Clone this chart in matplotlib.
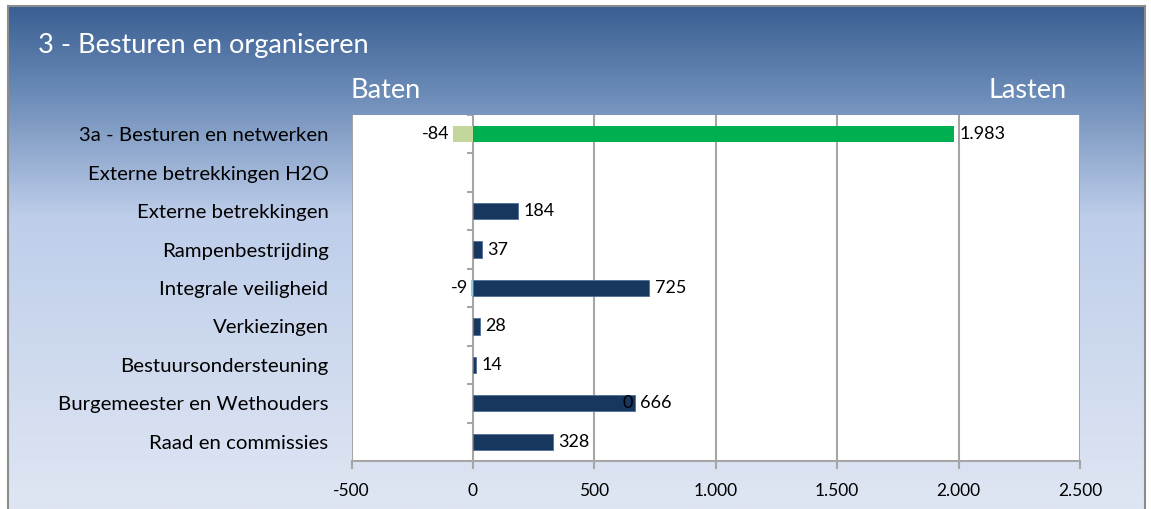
import matplotlib
matplotlib.use("Agg")
import matplotlib.pyplot as plt
import numpy as np
from matplotlib.colors import LinearSegmentedColormap
from matplotlib.lines import Line2D

categories = ["3a - Besturen en netwerken", "Externe betrekkingen H2O", "Externe betrekkingen",
              "Rampenbestrijding", "Integrale veiligheid", "Verkiezingen",
              "Bestuursondersteuning", "Burgemeester en Wethouders", "Raad en commissies"]
lasten = [1983, None, 184, 37, 725, 28, 14, 666, 328]
baten = [-84, None, None, None, -9, None, None, 0, None]
xticks = [-500, 0, 500, 1000, 1500, 2000, 2500]
title = "3 - Besturen en organiseren"

W, H = 1151, 509
fig = plt.figure(figsize=(W / 100, H / 100), dpi=100)
FONT = "Lato"

def fx(px):
    return px / W

def fy(py):
    return 1 - py / H

# background gradient panel
bg = fig.add_axes([fx(8), 0, fx(1145) - fx(8), fy(6)])
bg.set_axis_off()
cmap = LinearSegmentedColormap.from_list("bg", [
    (0.0, (58/255, 95/255, 146/255)),
    (0.18, (110/255, 141/255, 185/255)),
    (0.42, (190/255, 206/255, 234/255)),
    (1.0, (223/255, 230/255, 243/255)),
])
grad = np.linspace(0, 1, 256).reshape(-1, 1)
bg.imshow(grad, aspect="auto", cmap=cmap, extent=[0, 1, 0, 1], origin="upper")
bg.set_xlim(0, 1)
bg.set_ylim(0, 1)
# border lines
for xs, ys in [([fx(8), fx(8)], [0, fy(6)]), ([fx(8), fx(1145)], [fy(6), fy(6)]),
               ([fx(1145), fx(1145)], [0, fy(6)])]:
    fig.add_artist(Line2D(xs, ys, color="#8c8c8c", lw=1.5, transform=fig.transFigure))

fig.text(fx(38), fy(45), title, color="white", fontsize=19.5, family=FONT, va="center", ha="left")
fig.text(fx(386), fy(90), "Baten", color="white", fontsize=19.5, family=FONT, va="center", ha="center")
fig.text(fx(1067), fy(90), "Lasten", color="white", fontsize=19.5, family=FONT, va="center", ha="right")

ax = fig.add_axes([fx(351.5), fy(461), fx(1080) - fx(351.5), fy(115) - fy(461)])
ax.set_facecolor("white")
n = len(categories)
ypos = np.arange(n)[::-1]
ax.set_xlim(xticks[0], xticks[-1])
ax.set_ylim(-0.5, n - 0.5)

for x in xticks:
    ax.axvline(x, color="#a6a6a6", lw=1.5, zorder=1)

bh = 0.42
for i, (cat, l, b) in enumerate(zip(categories, lasten, baten)):
    y = ypos[i]
    first = i == 0
    lc = "#00b050" if first else "#17375e"
    bc = "#c3d69b" if first else "#93cddd"
    if l is not None:
        ax.barh(y, l, height=bh, color=lc, edgecolor="none" if first else "#4f6f9a",
                lw=0.6, zorder=3)
        ax.annotate(f"{l:,}".replace(",", "."), (l, y), xytext=(4, 0), textcoords="offset points",
                    va="center", ha="left", fontsize=13, family=FONT, color="black", zorder=5)
    if b is not None:
        if b != 0:
            ax.barh(y, b, height=bh, color=bc, edgecolor="none", zorder=3)
            ax.annotate(f"{b}", (b, y), xytext=(-2, 0), textcoords="offset points",
                        va="center", ha="right", fontsize=13, family=FONT, color="black", zorder=5)
        else:
            ax.annotate("0", (l, y), xytext=(-1, 0), textcoords="offset points",
                        va="center", ha="right", fontsize=13, family=FONT, color="black", zorder=5)

# category boundary ticks on the zero axis
bounds = np.arange(n + 1) - 0.5
ax.hlines(bounds, -25, 0, color="#a6a6a6", lw=1.5, zorder=2)

for s in ["top", "left", "right"]:
    ax.spines[s].set_visible(False)
ax.spines["bottom"].set_color("#a6a6a6")
ax.spines["bottom"].set_linewidth(1.5)

ax.set_xticks(xticks)
ax.set_xticklabels([f"{v:,}".replace(",", ".") for v in xticks], family=FONT, fontsize=12.5)
ax.tick_params(axis="x", length=6, width=1.5, color="#a6a6a6", pad=10)
ax.set_yticks(ypos)
ax.set_yticklabels(categories, family=FONT, fontsize=14.7)
ax.tick_params(axis="y", length=0, pad=16.5)

fig.savefig("out.png", dpi=100)
